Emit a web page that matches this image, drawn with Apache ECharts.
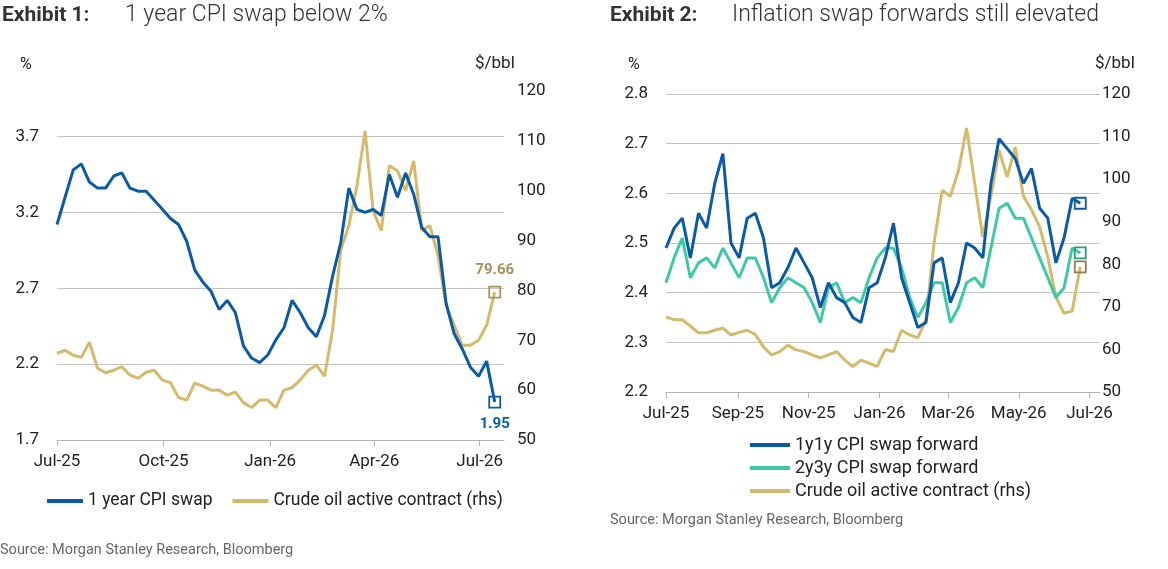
<!DOCTYPE html>
<html><head><meta charset="utf-8">
<script src="https://cdn.jsdelivr.net/npm/echarts@6/dist/echarts.min.js"></script>
<style>html,body{margin:0;padding:0;background:#fff}#c{width:1168px;height:569px}</style>
</head><body><div id="c"></div>
<script>
// ---- Exhibit 1 (weekly from 1 Jul 2025) ----
const cpi1y = [3.12,3.30,3.48,3.52,3.40,3.36,3.36,3.44,3.46,3.36,3.34,3.34,3.28,3.22,3.16,3.12,3.01,2.82,2.74,2.68,2.56,2.62,2.54,2.32,2.24,2.21,2.26,2.36,2.44,2.62,2.54,2.44,2.38,2.52,2.78,3.00,3.36,3.22,3.20,3.22,3.18,3.45,3.30,3.46,3.32,3.10,3.04,3.04,2.60,2.40,2.30,2.18,2.12,2.22,1.95];
const oil1 = [67.4,68,67,66.6,69.6,64.4,63.5,64,64.7,63,62.4,63.6,64,62,61.5,58.5,58,61.4,60.8,60,60,59,59.6,57.5,56.5,58,58,56.5,60,60.5,62,64,65,62.8,72,88,93,101,112,96,92,105,104,100,106,92,93,87,77,73,69,69,70,73,79.66];
// ---- Exhibit 2 (weekly from 1 Jul 2025) ----
const fwd1y1y = [2.49,2.53,2.55,2.47,2.56,2.53,2.62,2.68,2.50,2.47,2.55,2.56,2.51,2.41,2.42,2.45,2.49,2.46,2.43,2.37,2.42,2.39,2.38,2.35,2.34,2.41,2.42,2.47,2.54,2.43,2.38,2.33,2.34,2.46,2.47,2.38,2.42,2.50,2.49,2.47,2.62,2.71,2.69,2.67,2.62,2.65,2.57,2.55,2.46,2.51,2.59,2.58];
const fwd2y3y = [2.42,2.47,2.51,2.43,2.46,2.47,2.45,2.49,2.46,2.43,2.47,2.47,2.43,2.38,2.41,2.43,2.42,2.41,2.38,2.34,2.41,2.42,2.38,2.39,2.38,2.43,2.47,2.49,2.49,2.45,2.39,2.35,2.38,2.42,2.42,2.34,2.37,2.42,2.43,2.41,2.49,2.57,2.58,2.55,2.55,2.51,2.47,2.43,2.39,2.41,2.49,2.48];
const oil2 = [67.6,67,67,65.5,63.9,63.9,64.5,65,63.4,64,64.5,63.5,60.6,58.7,59.5,61,59.9,59.5,58.7,58,58.7,59.5,57.5,56,57.5,56.8,56,60,59.5,64.5,63.4,62.7,67,85,97.4,96,102,112,99,86.4,96,106.8,100.5,107.5,96,92.8,88.8,81.7,72.3,68.5,69,79.4];
const ticks1 = ['Jul-25','Oct-25','Jan-26','Apr-26','Jul-26'];
const ticks2 = ['Jul-25','Sep-25','Nov-25','Jan-26','Mar-26','May-26','Jul-26'];

const MON=['Jan','Feb','Mar','Apr','May','Jun','Jul','Aug','Sep','Oct','Nov','Dec'];
function days(n){const a=[];const d0=Date.UTC(2025,6,1);for(let i=0;i<n;i++){const d=new Date(d0+i*864e5);a.push(MON[d.getUTCMonth()]+'-'+String(d.getUTCFullYear()).slice(2)+'|'+d.getUTCDate());}return a;}
const cat1=days(387), cat2=days(375);
function isTick(list){return (i,v)=>{const p=v.split('|');return p[1]==='1'&&list.indexOf(p[0])>=0;};}
function spread(vals,n){const arr=new Array(n).fill(null);vals.forEach((v,i)=>{arr[i*7]=v;});return arr;}
function endMark(vals,color,fmt,pos,lc){
  const li=(vals.length-1)*7;
  return {symbol:'rect',symbolSize:11,silent:true,animation:false,
    itemStyle:{color:'rgba(255,255,255,0)',borderColor:color,borderWidth:1.8},
    label:{show:!!fmt,formatter:fmt||'',position:pos||'top',color:lc||color,fontWeight:'bold',fontSize:15,fontFamily:'Roboto',distance:8},
    data:[{coord:[li,vals[vals.length-1]]}]};
}
const BLUE='#0b5aa6',GOLD='#d5ba6c',TEAL='#3ec9a6';
const FONT='Roboto';
function xAx(gi,cat,list){return {type:'category',gridIndex:gi,data:cat,boundaryGap:false,
  axisLine:{lineStyle:{color:'#b5b5b5',width:1.2}},
  axisTick:{interval:isTick(list),length:6,lineStyle:{color:'#b5b5b5'}},
  axisLabel:{interval:isTick(list),formatter:v=>v.split('|')[0],color:'#222',fontSize:17,fontFamily:FONT,margin:13}};}
const lab={color:'#222',fontSize:17,fontFamily:FONT};
function line(name,xi,yi,data,color,z,mp){return {name,type:'line',xAxisIndex:xi,yAxisIndex:yi,data,connectNulls:true,symbol:'none',
  lineStyle:{color,width:3},itemStyle:{color},z:z||2,animation:false,markPoint:mp};}

const option={
  animation:false,
  graphic:[
    {type:'text',left:2,top:5,style:{text:'Exhibit 1:',font:'bold 21px Roboto',fill:'#333'}},
    {type:'text',left:125,top:4,style:{text:'1 year CPI swap below 2%',font:'300 23px Roboto',fill:'#333'}},
    {type:'text',left:610,top:5,style:{text:'Exhibit 2:',font:'bold 21px Roboto',fill:'#333'}},
    {type:'text',left:732,top:4,style:{text:'Inflation swap forwards still elevated',font:'300 23px Roboto',fill:'#333'}},
    {type:'text',left:20,top:57,style:{text:'%',font:'16px Roboto',fill:'#222'}},
    {type:'text',left:475,top:55,style:{text:'$/bbl',font:'17px Roboto',fill:'#222'}},
    {type:'text',left:628,top:57,style:{text:'%',font:'16px Roboto',fill:'#222'}},
    {type:'text',left:1095,top:55,style:{text:'$/bbl',font:'17px Roboto',fill:'#222'}},
    {type:'text',left:0,top:543,style:{text:'Source: Morgan Stanley Research, Bloomberg',font:'14.5px Roboto',fill:'#666'}},
    {type:'text',left:610,top:513,style:{text:'Source: Morgan Stanley Research, Bloomberg',font:'14.5px Roboto',fill:'#666'}}
  ],
  legend:[
    {data:['1 year CPI swap','Crude oil active contract (rhs)'],left:42,top:487,itemWidth:36,itemHeight:4,icon:'rect',itemGap:20,itemStyle:{borderWidth:0},
      textStyle:{color:'#222',fontSize:17.5,fontFamily:FONT}},
    {data:['1y1y CPI swap forward','2y3y CPI swap forward','Crude oil active contract (rhs) '],orient:'vertical',left:745,top:431,itemWidth:40,itemHeight:4,icon:'rect',itemGap:5,itemStyle:{borderWidth:0},
      textStyle:{color:'#222',fontSize:18,fontFamily:FONT}}
  ],
  grid:[{left:57,top:91,width:447,height:349},{left:666,top:94,width:434,height:298}],
  xAxis:[xAx(0,cat1,ticks1),xAx(1,cat2,ticks2)],
  yAxis:[
    {type:'value',gridIndex:0,min:1.7,max:4.0,interval:0.5,axisLine:{show:false},axisTick:{show:false},
      axisLabel:Object.assign({formatter:v=>v>3.8?'':v.toFixed(1),margin:18,showMaxLabel:false},lab),
      splitLine:{show:true,showMinLine:false,showMaxLine:false,lineStyle:{color:'#c4c4c4',width:1.2}}},
    {type:'value',gridIndex:0,min:50,max:120,interval:10,position:'right',axisLine:{show:false},axisTick:{show:false},
      axisLabel:Object.assign({margin:13},lab),splitLine:{show:false}},
    {type:'value',gridIndex:1,min:2.2,max:2.8,interval:0.1,axisLine:{show:false},axisTick:{show:false},
      axisLabel:Object.assign({formatter:v=>v.toFixed(1),margin:18},lab),
      splitLine:{show:true,showMinLine:false,lineStyle:{color:'#c4c4c4',width:1.2}}},
    {type:'value',gridIndex:1,min:50,max:120,interval:10,position:'right',axisLine:{show:false},axisTick:{show:false},
      axisLabel:Object.assign({margin:2},lab),splitLine:{show:false}}
  ],
  series:[
    line('Crude oil active contract (rhs)',0,1,spread(oil1,387),GOLD,2,endMark(oil1,'#a89160','79.66','top','#a89160')),
    line('1 year CPI swap',0,0,spread(cpi1y,387),BLUE,3,endMark(cpi1y,BLUE,'1.95','bottom',BLUE)),
    line('Crude oil active contract (rhs) ',1,3,spread(oil2,375),GOLD,2,endMark(oil2,'#8c7d55')),
    line('2y3y CPI swap forward',1,2,spread(fwd2y3y,375),TEAL,3,endMark(fwd2y3y,'#2f9c80')),
    line('1y1y CPI swap forward',1,2,spread(fwd1y1y,375),BLUE,4,endMark(fwd1y1y,BLUE))
  ]
};
const ch=echarts.init(document.getElementById('c'),null,{renderer:'canvas'});
ch.setOption(option);
</script></body></html>
